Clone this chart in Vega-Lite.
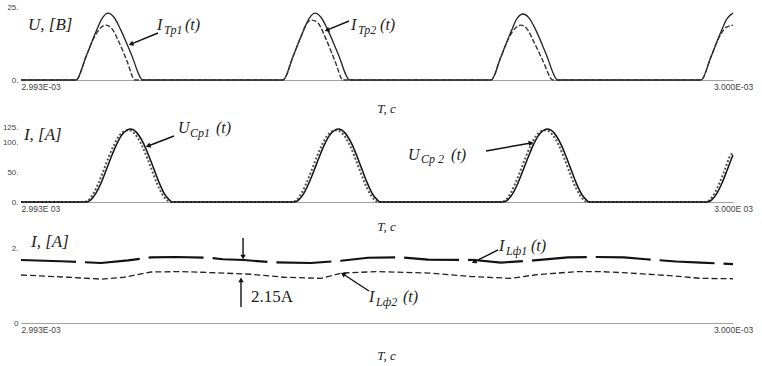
{
"$schema": "https://vega.github.io/schema/vega-lite/v6.json",
"background": "white",
"padding": {"left": 2, "top": 3, "right": 0, "bottom": 0},
"bounds": "flush",
"spacing": 46,
"config": {
  "view": {"stroke": null},
  "axisX": {"ticks": false, "grid": false, "domainColor": "#a0a0a0", "labelFont": "Liberation Sans", "labelFontSize": 8.5, "labelColor": "#444", "labelPadding": 2, "labelFlush": false, "titleFont": "Liberation Serif", "titleFontStyle": "italic", "titleFontWeight": "normal", "titleFontSize": 13, "titleColor": "#222", "titleX": 365},
  "axisY": {"ticks": false, "grid": false, "domain": false, "labelFont": "Liberation Sans", "labelFontSize": 8, "labelColor": "#444", "labelPadding": 3, "labelOverlap": false}
},
"datasets": {
  "top_solid": [{"u":0,"v":0},{"u":0.541,"v":0},{"u":0.639,"v":8},{"u":0.737,"v":16.5},{"u":0.796,"v":21},{"u":0.855,"v":22.9},{"u":0.914,"v":21.5},{"u":0.983,"v":17},{"u":1.082,"v":9},{"u":1.2,"v":0},{"u":2.576,"v":0},{"u":2.674,"v":8},{"u":2.773,"v":16.5},{"u":2.832,"v":21},{"u":2.891,"v":22.9},{"u":2.949,"v":21.5},{"u":3.018,"v":17},{"u":3.117,"v":9},{"u":3.234,"v":0},{"u":4.621,"v":0},{"u":4.719,"v":8},{"u":4.817,"v":16.5},{"u":4.876,"v":21},{"u":4.935,"v":22.6},{"u":4.994,"v":21.3},{"u":5.063,"v":17},{"u":5.161,"v":9},{"u":5.279,"v":0},{"u":6.685,"v":0},{"u":6.784,"v":8},{"u":6.882,"v":16.5},{"u":6.941,"v":21},{"u":7.0,"v":22.9}],
  "top_dashed": [{"u":0,"v":0},{"u":0.541,"v":0},{"u":0.639,"v":8},{"u":0.718,"v":14.5},{"u":0.787,"v":18},{"u":0.836,"v":18.8},{"u":0.895,"v":17.5},{"u":0.963,"v":13},{"u":1.042,"v":6.5},{"u":1.121,"v":0},{"u":2.576,"v":0},{"u":2.674,"v":8},{"u":2.753,"v":15},{"u":2.812,"v":19.5},{"u":2.861,"v":20.5},{"u":2.92,"v":19.5},{"u":2.999,"v":14},{"u":3.087,"v":6.5},{"u":3.166,"v":0},{"u":4.621,"v":0},{"u":4.719,"v":8},{"u":4.797,"v":14.5},{"u":4.866,"v":18},{"u":4.916,"v":18.8},{"u":4.975,"v":17.5},{"u":5.043,"v":13},{"u":5.132,"v":6.5},{"u":5.23,"v":0},{"u":6.685,"v":0},{"u":6.784,"v":8},{"u":6.862,"v":14.5},{"u":6.931,"v":18},{"u":7.0,"v":18.8}],
  "top_txt": [{"u":0.069,"v":18.8,"t":"U, [В]","k":"plain"},{"u":1.337,"v":18.8,"t":"I","k":"big"},{"u":1.406,"v":17.0,"t":"Тр1","k":"sub"},{"u":1.612,"v":18.8,"t":"(t)","k":"big"},{"u":3.244,"v":18.8,"t":"I","k":"big"},{"u":3.313,"v":17.0,"t":"Тр2","k":"sub"},{"u":3.53,"v":18.8,"t":"(t)","k":"big"}],
  "top_arr": [{"id":"a1","u":1.347,"v":16.1,"u2":1.081,"v2":12.3},{"id":"a2","u":3.225,"v":20.2,"u2":3.008,"v2":17.1}],
  "mid_solid": [{"u":0,"v":0},{"u":0.639,"v":0},{"u":0.688,"v":4},{"u":0.737,"v":15},{"u":0.787,"v":32},{"u":0.836,"v":53},{"u":0.885,"v":75},{"u":0.934,"v":95},{"u":0.983,"v":111},{"u":1.032,"v":120},{"u":1.072,"v":123},{"u":1.111,"v":121},{"u":1.16,"v":112},{"u":1.209,"v":97},{"u":1.258,"v":77},{"u":1.308,"v":55},{"u":1.357,"v":33},{"u":1.406,"v":15},{"u":1.455,"v":4},{"u":1.485,"v":0},{"u":2.684,"v":0},{"u":2.733,"v":4},{"u":2.782,"v":15},{"u":2.831,"v":32},{"u":2.881,"v":53},{"u":2.93,"v":75},{"u":2.979,"v":95},{"u":3.028,"v":111},{"u":3.077,"v":120},{"u":3.117,"v":123},{"u":3.156,"v":121},{"u":3.205,"v":112},{"u":3.254,"v":97},{"u":3.303,"v":77},{"u":3.352,"v":55},{"u":3.402,"v":33},{"u":3.451,"v":15},{"u":3.5,"v":4},{"u":3.529,"v":0},{"u":4.739,"v":0},{"u":4.788,"v":4},{"u":4.837,"v":15},{"u":4.886,"v":32},{"u":4.935,"v":53},{"u":4.985,"v":75},{"u":5.034,"v":95},{"u":5.083,"v":111},{"u":5.132,"v":120},{"u":5.171,"v":123},{"u":5.211,"v":121},{"u":5.26,"v":112},{"u":5.309,"v":97},{"u":5.358,"v":77},{"u":5.407,"v":55},{"u":5.456,"v":33},{"u":5.506,"v":15},{"u":5.555,"v":4},{"u":5.584,"v":0},{"u":6.744,"v":0},{"u":6.794,"v":4},{"u":6.843,"v":15},{"u":6.892,"v":32},{"u":6.941,"v":53},{"u":6.99,"v":75},{"u":7.0,"v":79}],
  "mid_dot": [{"u":0,"v":0},{"u":0.619,"v":0},{"u":0.668,"v":4},{"u":0.717,"v":16},{"u":0.767,"v":34},{"u":0.816,"v":55},{"u":0.865,"v":77},{"u":0.914,"v":96},{"u":0.963,"v":111},{"u":1.012,"v":119},{"u":1.052,"v":121},{"u":1.091,"v":119},{"u":1.14,"v":110},{"u":1.189,"v":95},{"u":1.238,"v":75},{"u":1.288,"v":53},{"u":1.337,"v":31},{"u":1.386,"v":14},{"u":1.435,"v":3},{"u":1.465,"v":0},{"u":2.664,"v":0},{"u":2.713,"v":4},{"u":2.762,"v":16},{"u":2.811,"v":34},{"u":2.861,"v":55},{"u":2.91,"v":77},{"u":2.959,"v":96},{"u":3.008,"v":111},{"u":3.057,"v":119},{"u":3.097,"v":121},{"u":3.136,"v":119},{"u":3.185,"v":110},{"u":3.234,"v":95},{"u":3.283,"v":75},{"u":3.332,"v":53},{"u":3.382,"v":31},{"u":3.431,"v":14},{"u":3.48,"v":3},{"u":3.509,"v":0},{"u":4.719,"v":0},{"u":4.768,"v":4},{"u":4.817,"v":16},{"u":4.866,"v":34},{"u":4.915,"v":55},{"u":4.965,"v":77},{"u":5.014,"v":96},{"u":5.063,"v":111},{"u":5.112,"v":119},{"u":5.151,"v":121},{"u":5.191,"v":119},{"u":5.24,"v":110},{"u":5.289,"v":95},{"u":5.338,"v":75},{"u":5.387,"v":53},{"u":5.436,"v":31},{"u":5.486,"v":14},{"u":5.535,"v":3},{"u":5.564,"v":0},{"u":6.724,"v":0},{"u":6.774,"v":4},{"u":6.823,"v":16},{"u":6.872,"v":34},{"u":6.921,"v":55},{"u":6.97,"v":77},{"u":7.0,"v":83}],
  "mid_txt": [{"u":0.029,"v":112.8,"t":"I, [А]","k":"plain"},{"u":1.544,"v":124.6,"t":"U","k":"big"},{"u":1.662,"v":117.0,"t":"Ср1","k":"sub"},{"u":1.917,"v":124.6,"t":"(t)","k":"big"},{"u":3.805,"v":79.2,"t":"U","k":"big"},{"u":3.933,"v":71.6,"t":"Ср 2","k":"sub"},{"u":4.228,"v":79.2,"t":"(t)","k":"big"}],
  "mid_arr": [{"id":"m1","u":1.504,"v":111.2,"u2":1.249,"v2":94.3},{"id":"m2","u":4.572,"v":85.9,"u2":5.014,"v2":99.4}],
  "bot_solid": [{"u":0,"v":1.68},{"u":0.462,"v":1.64},{"u":0.787,"v":1.6},{"u":1.052,"v":1.67},{"u":1.278,"v":1.75},{"u":1.524,"v":1.76},{"u":1.838,"v":1.74},{"u":1.986,"v":1.7},{"u":2.192,"v":1.68},{"u":2.458,"v":1.62},{"u":2.851,"v":1.6},{"u":3.146,"v":1.66},{"u":3.412,"v":1.74},{"u":3.736,"v":1.75},{"u":4.001,"v":1.69},{"u":4.454,"v":1.68},{"u":4.719,"v":1.61},{"u":5.044,"v":1.67},{"u":5.378,"v":1.75},{"u":5.633,"v":1.76},{"u":5.928,"v":1.75},{"u":6.145,"v":1.7},{"u":6.44,"v":1.64},{"u":6.685,"v":1.61},{"u":7.0,"v":1.57}],
  "bot_dash": [{"u":0,"v":1.28},{"u":0.462,"v":1.22},{"u":0.787,"v":1.17},{"u":1.013,"v":1.22},{"u":1.278,"v":1.36},{"u":1.573,"v":1.37},{"u":1.917,"v":1.34},{"u":2.261,"v":1.3},{"u":2.586,"v":1.22},{"u":2.949,"v":1.19},{"u":3.146,"v":1.33},{"u":3.49,"v":1.37},{"u":4.031,"v":1.33},{"u":4.424,"v":1.24},{"u":4.817,"v":1.19},{"u":5.044,"v":1.28},{"u":5.456,"v":1.37},{"u":5.702,"v":1.37},{"u":5.997,"v":1.33},{"u":6.341,"v":1.27},{"u":6.685,"v":1.19},{"u":7.0,"v":1.18}],
  "bot_txt": [{"u":0.098,"v":2.16,"t":"I, [А]","k":"axlab"},{"u":4.699,"v":2.053,"t":"I","k":"big"},{"u":4.768,"v":1.92,"t":"Lф1","k":"sub"},{"u":5.014,"v":2.053,"t":"(t)","k":"big"},{"u":3.421,"v":0.693,"t":"I","k":"big"},{"u":3.49,"v":0.56,"t":"Lф2","k":"sub"},{"u":3.756,"v":0.693,"t":"(t)","k":"big"},{"u":2.261,"v":0.693,"t":"2.15A","k":"plain"}],
  "bot_arr": [{"id":"b1","u":4.69,"v":1.947,"u2":4.454,"v2":1.627},{"id":"b2","u":3.421,"v":0.853,"u2":3.166,"v2":1.307},{"id":"b3","u":2.183,"v":2.267,"u2":2.183,"v2":1.76},{"id":"b4","u":2.163,"v":0.427,"u2":2.163,"v2":1.15}]
},
"vconcat": [
{
  "width": 712, "height": 73,
  "layer": [
    {"data": {"name": "top_solid"}, "mark": {"type": "line", "color": "#222", "strokeWidth": 1.3, "interpolate": "monotone"},
     "encoding": {
       "x": {"field": "u", "type": "quantitative", "scale": {"domain": [0, 7], "nice": false}, "axis": {"values": [0, 7], "labelExpr": "datum.value == 0 ? '2.993E-03' : '3.000E-03'", "labelAlign": {"condition": {"test": "datum.value == 0", "value": "left"}, "value": "center"}, "title": "T, c", "titlePadding": 12}},
       "y": {"field": "v", "type": "quantitative", "scale": {"domain": [0, 25], "nice": false}, "axis": {"values": [0, 25], "labelOverlap": false, "labelExpr": "datum.value + '.'", "title": null}}}},
    {"data": {"name": "top_dashed"}, "mark": {"type": "line", "color": "#333", "strokeWidth": 1.4, "strokeDash": [5, 2], "interpolate": "monotone"},
     "encoding": {"x": {"field": "u", "type": "quantitative"}, "y": {"field": "v", "type": "quantitative"}}},
    {"mark": {"type": "rule", "color": "#a0a0a0"}, "encoding": {"x": {"datum": 7}, "y": {"datum": 0}, "y2": {"datum": 25}}},
    {"data": {"name": "top_txt"}, "transform": [{"filter": "datum.k == 'plain'"}], "mark": {"type": "text", "align": "left", "baseline": "middle", "font": "Liberation Serif", "fontSize": 17, "fontStyle": "italic", "color": "#222"},
     "encoding": {"x": {"field": "u", "type": "quantitative"}, "y": {"field": "v", "type": "quantitative"}, "text": {"field": "t"}}},
    {"data": {"name": "top_txt"}, "transform": [{"filter": "datum.k == 'big'"}], "mark": {"type": "text", "align": "left", "baseline": "middle", "font": "Liberation Serif", "fontSize": 16, "fontStyle": "italic", "color": "#222"},
     "encoding": {"x": {"field": "u", "type": "quantitative"}, "y": {"field": "v", "type": "quantitative"}, "text": {"field": "t"}}},
    {"data": {"name": "top_txt"}, "transform": [{"filter": "datum.k == 'sub'"}], "mark": {"type": "text", "align": "left", "baseline": "middle", "font": "Liberation Serif", "fontSize": 12, "fontStyle": "italic", "color": "#222"},
     "encoding": {"x": {"field": "u", "type": "quantitative"}, "y": {"field": "v", "type": "quantitative"}, "text": {"field": "t"}}},
    {"data": {"name": "top_arr"}, "mark": {"type": "rule", "color": "#111", "strokeWidth": 1.4},
     "encoding": {"x": {"field": "u", "type": "quantitative"}, "y": {"field": "v", "type": "quantitative"}, "x2": {"field": "u2"}, "y2": {"field": "v2"}}},
    {"data": {"name": "top_arr"}, "transform": [{"filter": "datum.id == 'a1'"}], "mark": {"type": "point", "shape": "triangle-up", "filled": true, "size": 30, "color": "#111", "opacity": 1, "angle": 248},
     "encoding": {"x": {"field": "u2", "type": "quantitative"}, "y": {"field": "v2", "type": "quantitative"}}},
    {"data": {"name": "top_arr"}, "transform": [{"filter": "datum.id == 'a2'"}], "mark": {"type": "point", "shape": "triangle-up", "filled": true, "size": 30, "color": "#111", "opacity": 1, "angle": 248},
     "encoding": {"x": {"field": "u2", "type": "quantitative"}, "y": {"field": "v2", "type": "quantitative"}}}
  ]
},
{
  "width": 712, "height": 76,
  "encoding": {
    "y": {"field": "v", "type": "quantitative", "scale": {"domain": [0, 128], "nice": false}, "axis": {"values": [0, 50, 100, 125], "labelExpr": "datum.value + '.'", "labelOverlap": false, "labelSeparation": 0, "labelBound": false, "title": null}}
  },
  "layer": [
    {"data": {"name": "mid_dot"}, "mark": {"type": "line", "color": "#555", "strokeWidth": 2, "strokeDash": [2, 2], "interpolate": "monotone"},
     "encoding": {
       "x": {"field": "u", "type": "quantitative", "scale": {"domain": [0, 7], "nice": false}, "axis": {"values": [0, 7], "labelExpr": "datum.value == 0 ? '2.993E 03' : '3.000E 03'", "labelAlign": {"condition": {"test": "datum.value == 0", "value": "left"}, "value": "center"}, "title": "T, c", "titlePadding": 8}}}},
    {"data": {"name": "mid_solid"}, "mark": {"type": "line", "color": "#111", "strokeWidth": 1.5, "interpolate": "monotone"},
     "encoding": {"x": {"field": "u", "type": "quantitative"}}},
    {"mark": {"type": "rule", "color": "#a0a0a0"}, "encoding": {"x": {"datum": 7}, "y": {"datum": 0}, "y2": {"datum": 125}}},
    {"data": {"name": "mid_txt"}, "transform": [{"filter": "datum.k == 'plain'"}], "mark": {"type": "text", "align": "left", "baseline": "middle", "font": "Liberation Serif", "fontSize": 17, "fontStyle": "italic", "color": "#222"},
     "encoding": {"x": {"field": "u", "type": "quantitative"}, "text": {"field": "t"}}},
    {"data": {"name": "mid_txt"}, "transform": [{"filter": "datum.k == 'big'"}], "mark": {"type": "text", "align": "left", "baseline": "middle", "font": "Liberation Serif", "fontSize": 16, "fontStyle": "italic", "color": "#222"},
     "encoding": {"x": {"field": "u", "type": "quantitative"}, "text": {"field": "t"}}},
    {"data": {"name": "mid_txt"}, "transform": [{"filter": "datum.k == 'sub'"}], "mark": {"type": "text", "align": "left", "baseline": "middle", "font": "Liberation Serif", "fontSize": 12, "fontStyle": "italic", "color": "#222"},
     "encoding": {"x": {"field": "u", "type": "quantitative"}, "text": {"field": "t"}}},
    {"data": {"name": "mid_arr"}, "mark": {"type": "rule", "color": "#111", "strokeWidth": 1.4},
     "encoding": {"x": {"field": "u", "type": "quantitative"}, "x2": {"field": "u2"}, "y2": {"field": "v2"}}},
    {"data": {"name": "mid_arr"}, "transform": [{"filter": "datum.id == 'm1'"}], "mark": {"type": "point", "shape": "triangle-up", "filled": true, "size": 30, "color": "#111", "opacity": 1, "angle": 249},
     "encoding": {"x": {"field": "u2", "type": "quantitative"}, "y": {"field": "v2", "type": "quantitative"}}},
    {"data": {"name": "mid_arr"}, "transform": [{"filter": "datum.id == 'm2'"}], "mark": {"type": "point", "shape": "triangle-up", "filled": true, "size": 30, "color": "#111", "opacity": 1, "angle": 80},
     "encoding": {"x": {"field": "u2", "type": "quantitative"}, "y": {"field": "v2", "type": "quantitative"}}}
  ]
},
{
  "width": 712, "height": 75,
  "layer": [
    {"data": {"name": "bot_solid"}, "mark": {"type": "line", "color": "#111", "strokeWidth": 2.2, "strokeDash": [55, 9]},
     "encoding": {
       "x": {"field": "u", "type": "quantitative", "scale": {"domain": [0, 7], "nice": false}, "axis": {"values": [0, 7], "labelExpr": "datum.value == 0 ? '2.993E-03' : '3.000E-03'", "labelAlign": {"condition": {"test": "datum.value == 0", "value": "left"}, "value": "center"}, "title": "T, c", "titlePadding": 16}},
       "y": {"field": "v", "type": "quantitative", "scale": {"domain": [0, 2], "nice": false}, "axis": {"values": [0, 2], "labelOverlap": false, "labelExpr": "datum.value == 0 ? '0' : '2.'", "title": null}}}},
    {"data": {"name": "bot_dash"}, "mark": {"type": "line", "color": "#222", "strokeWidth": 1.3, "strokeDash": [6, 3]},
     "encoding": {"x": {"field": "u", "type": "quantitative"}, "y": {"field": "v", "type": "quantitative"}}},
    {"mark": {"type": "rule", "color": "#a0a0a0"}, "encoding": {"x": {"datum": 7}, "y": {"datum": 0}, "y2": {"datum": 2}}},
    {"mark": {"type": "rule", "color": "#a0a0a0"}, "encoding": {"x": {"datum": 0}, "x2": {"datum": 7}, "y": {"datum": 2}}},
    {"data": {"name": "bot_txt"}, "transform": [{"filter": "datum.k == 'axlab'"}], "mark": {"type": "text", "align": "left", "baseline": "middle", "font": "Liberation Serif", "fontSize": 17, "fontStyle": "italic", "color": "#222"},
     "encoding": {"x": {"field": "u", "type": "quantitative"}, "y": {"field": "v", "type": "quantitative"}, "text": {"field": "t"}}},
    {"data": {"name": "bot_txt"}, "transform": [{"filter": "datum.k == 'plain'"}], "mark": {"type": "text", "align": "left", "baseline": "middle", "font": "Liberation Serif", "fontSize": 17, "color": "#222"},
     "encoding": {"x": {"field": "u", "type": "quantitative"}, "y": {"field": "v", "type": "quantitative"}, "text": {"field": "t"}}},
    {"data": {"name": "bot_txt"}, "transform": [{"filter": "datum.k == 'big'"}], "mark": {"type": "text", "align": "left", "baseline": "middle", "font": "Liberation Serif", "fontSize": 16, "fontStyle": "italic", "color": "#222"},
     "encoding": {"x": {"field": "u", "type": "quantitative"}, "y": {"field": "v", "type": "quantitative"}, "text": {"field": "t"}}},
    {"data": {"name": "bot_txt"}, "transform": [{"filter": "datum.k == 'sub'"}], "mark": {"type": "text", "align": "left", "baseline": "middle", "font": "Liberation Serif", "fontSize": 12, "fontStyle": "italic", "color": "#222"},
     "encoding": {"x": {"field": "u", "type": "quantitative"}, "y": {"field": "v", "type": "quantitative"}, "text": {"field": "t"}}},
    {"data": {"name": "bot_arr"}, "mark": {"type": "rule", "color": "#111", "strokeWidth": 1.4},
     "encoding": {"x": {"field": "u", "type": "quantitative"}, "y": {"field": "v", "type": "quantitative"}, "x2": {"field": "u2"}, "y2": {"field": "v2"}}},
    {"data": {"name": "bot_arr"}, "transform": [{"filter": "datum.id == 'b1'"}], "mark": {"type": "point", "shape": "triangle-up", "filled": true, "size": 30, "color": "#111", "opacity": 1, "angle": 243},
     "encoding": {"x": {"field": "u2", "type": "quantitative"}, "y": {"field": "v2", "type": "quantitative"}}},
    {"data": {"name": "bot_arr"}, "transform": [{"filter": "datum.id == 'b2'"}], "mark": {"type": "point", "shape": "triangle-up", "filled": true, "size": 30, "color": "#111", "opacity": 1, "angle": 303},
     "encoding": {"x": {"field": "u2", "type": "quantitative"}, "y": {"field": "v2", "type": "quantitative"}}},
    {"data": {"name": "bot_arr"}, "transform": [{"filter": "datum.id == 'b3'"}], "mark": {"type": "point", "shape": "triangle-up", "filled": true, "size": 30, "color": "#111", "opacity": 1, "angle": 180},
     "encoding": {"x": {"field": "u2", "type": "quantitative"}, "y": {"field": "v2", "type": "quantitative"}}},
    {"data": {"name": "bot_arr"}, "transform": [{"filter": "datum.id == 'b4'"}], "mark": {"type": "point", "shape": "triangle-up", "filled": true, "size": 30, "color": "#111", "opacity": 1, "angle": 0},
     "encoding": {"x": {"field": "u2", "type": "quantitative"}, "y": {"field": "v2", "type": "quantitative"}}}
  ]
}
]
}
